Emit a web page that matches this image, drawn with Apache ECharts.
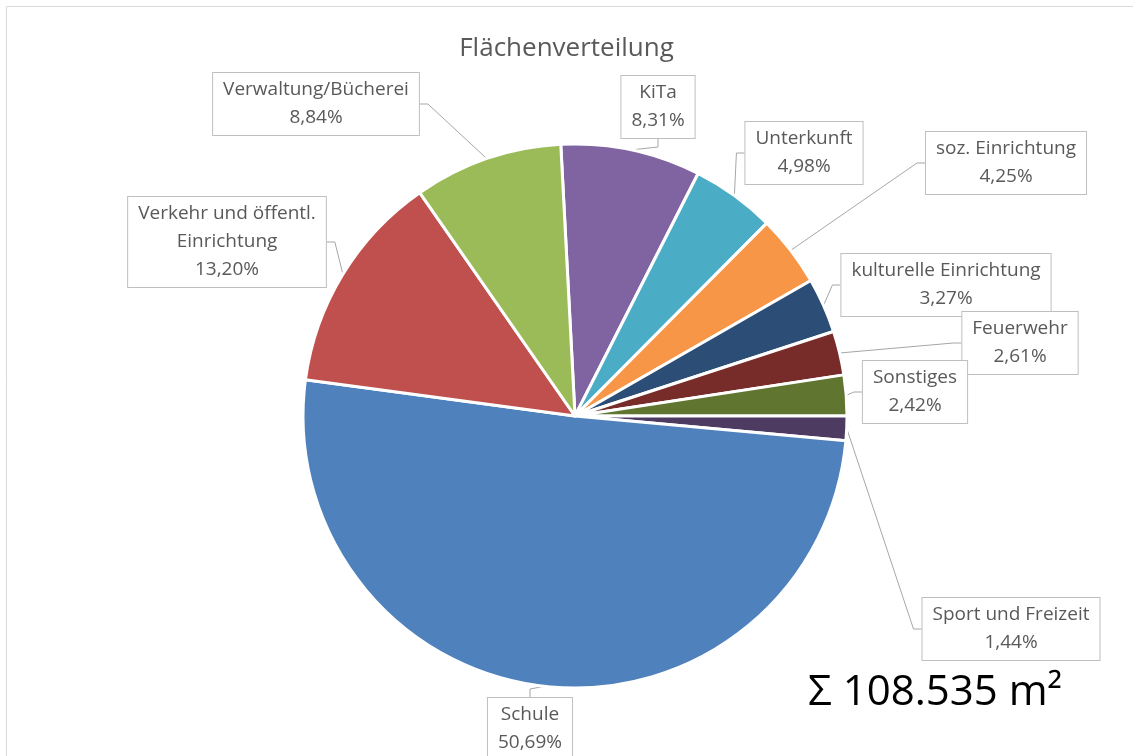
<!DOCTYPE html>
<html>
<head>
<meta charset="utf-8">
<title>Flächenverteilung</title>
<script src="https://cdn.jsdelivr.net/npm/echarts@6/dist/echarts.min.js"></script>
<style>
  html, body { margin: 0; padding: 0; background: #fff; }
  #chart { width: 1133px; height: 756px; }
</style>
</head>
<body>
<div id="chart"></div>
<script>
// Flächenanteile in %, im Uhrzeigersinn ab 12 Uhr
const categories = [
  'KiTa',
  'Unterkunft',
  'soz. Einrichtung',
  'kulturelle Einrichtung',
  'Feuerwehr',
  'Sonstiges',
  'Sport und Freizeit',
  'Schule',
  'Verkehr und öffentl.\nEinrichtung',
  'Verwaltung/Bücherei'
]
const shares = [8.31, 4.98, 4.25, 3.27, 2.61, 2.42, 1.44, 50.69, 13.20, 8.84]
const totalArea = '108.535'

const sliceColors = ['#8064a2', '#4bacc6', '#f79646', '#2c4d75', '#772c2a', '#5f7530', '#4d3b62', '#4f81bd', '#c0504d', '#9bbb59']
// Mittelpunkte der Beschriftungskästen (Pixel)
const labelPos = [
  [658, 107], [804, 153], [1006, 163], [946, 285], [1020, 343],
  [915, 392], [1011, 629], [530, 729], [227, 242], [316, 104]
]

const chart = echarts.init(document.getElementById('chart'))

const fmt = (v) => v.toFixed(2).replace('.', ',') + '%'

chart.setOption({
  animation: false,
  title: {
    text: 'Flächenverteilung',
    left: 'center',
    top: 31,
    textStyle: {
      fontFamily: 'Open Sans',
      fontSize: 26,
      fontWeight: 'normal',
      color: '#595959'
    }
  },
  graphic: [
    {
      type: 'rect',
      shape: { x: 6.5, y: 6.5, width: 1140, height: 770 },
      style: { fill: null, stroke: '#d9d9d9', lineWidth: 1 },
      silent: true
    },
    {
      type: 'text',
      x: 808,
      y: 693,
      style: {
        text: 'Σ ' + totalArea + ' m²',
        fontFamily: 'Open Sans',
        fontSize: 42,
        fill: '#000',
        verticalAlign: 'middle'
      }
    }
  ],
  series: [
    {
      type: 'pie',
      center: [575, 416],
      radius: 272,
      startAngle: 93,
      clockwise: true,
      avoidLabelOverlap: false,
      itemStyle: {
        borderColor: '#fff',
        borderWidth: 3
      },
      label: {
        show: true,
        position: 'outside',
        formatter: (p) => p.name + '\n' + fmt(p.value),
        fontFamily: 'Open Sans',
        fontSize: 19,
        lineHeight: 28,
        color: '#595959',
        backgroundColor: '#fff',
        borderColor: '#bfbfbf',
        borderWidth: 1,
        padding: [3, 10]
      },
      labelLine: {
        show: true,
        length: 10,
        length2: 8,
        lineStyle: { color: '#a6a6a6', width: 1 }
      },
      labelLayout: (params) => {
        const p = labelPos[params.dataIndex]
        return { x: p[0], y: p[1], align: 'center', verticalAlign: 'middle' }
      },
      emphasis: { disabled: true },
      data: categories.map((name, i) => ({
        name: name,
        value: shares[i],
        itemStyle: { color: sliceColors[i] }
      }))
    }
  ]
})
</script>
</body>
</html>
